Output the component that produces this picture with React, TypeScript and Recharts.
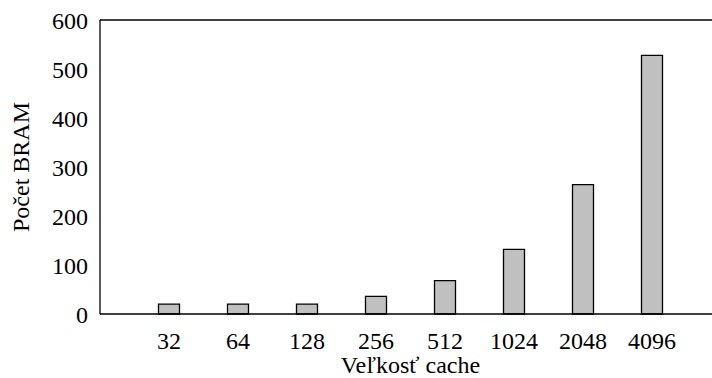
import { BarChart, Bar, XAxis, YAxis } from 'recharts';

const cacheSizes = ['32', '64', '128', '256', '512', '1024', '2048', '4096'];
const bramCounts = [20, 20, 20, 36, 68, 132, 264, 528];
const yTicks = [0, 100, 200, 300, 400, 500, 600];

const data = cacheSizes.map((size, i) => ({ size, bram: bramCounts[i] }));

const font = "'Times New Roman', 'Liberation Serif', 'DejaVu Serif', serif";
const tickStyle = { fontFamily: font, fontSize: 24, fill: '#000' };
const axisLine = { stroke: '#000', strokeWidth: 1.3 };
const pad = { left: 34.5, right: 34.5 };

export default function App() {
    return (
        <div style={{ position: 'absolute', left: 0, top: 0, width: 712, height: 378, overflow: 'hidden', background: '#fff', fontFamily: font }}>
            <BarChart
                width={730}
                height={378}
                data={data}
                margin={{ top: 20, right: 9, left: 0, bottom: 0 }}
                barSize={21}
                style={{ fontFamily: font }}
            >
                {/* inward tick marks on all four sides, gnuplot style */}
                <XAxis xAxisId="top" orientation="top" dataKey="size" padding={pad} mirror tick={false}
                    tickSize={12} tickLine={axisLine} axisLine={axisLine} />
                <XAxis xAxisId="bottomTicks" dataKey="size" padding={pad} mirror tick={false}
                    tickSize={12} tickLine={axisLine} axisLine={false} />
                <YAxis yAxisId="leftTicks" domain={[0, 600]} ticks={yTicks} mirror tick={false}
                    tickSize={12} tickLine={axisLine} axisLine={false} />
                <YAxis yAxisId="right" orientation="right" domain={[0, 600]} ticks={yTicks} mirror tick={false}
                    tickSize={12} tickLine={axisLine} axisLine={axisLine} />

                <XAxis
                    dataKey="size"
                    padding={pad}
                    height={64}
                    tickLine={false}
                    tickSize={0}
                    tickMargin={18}
                    axisLine={axisLine}
                    tick={tickStyle}
                    interval={0}
                    label={{ value: 'Veľkosť cache', position: 'insideBottom', offset: 5, style: { fontFamily: font, fontSize: 24, fill: '#000' } }}
                />
                <YAxis
                    width={100}
                    domain={[0, 600]}
                    ticks={yTicks}
                    tickLine={false}
                    tickSize={0}
                    tickMargin={12}
                    axisLine={axisLine}
                    tick={tickStyle}
                    label={{
                        content: ({ viewBox }: any) => {
                            const cy = viewBox.y + viewBox.height / 2;
                            return (
                                <text x={29} y={cy} transform={`rotate(-90 29 ${cy})`} textAnchor="middle"
                                    style={{ fontFamily: font, fontSize: 24, fill: '#000' }}>
                                    Počet BRAM
                                </text>
                            );
                        },
                    }}
                />
                <Bar dataKey="bram" fill="#c0c0c0" stroke="#000" strokeWidth={1.3} isAnimationActive={false} />
            </BarChart>
        </div>
    );
}
